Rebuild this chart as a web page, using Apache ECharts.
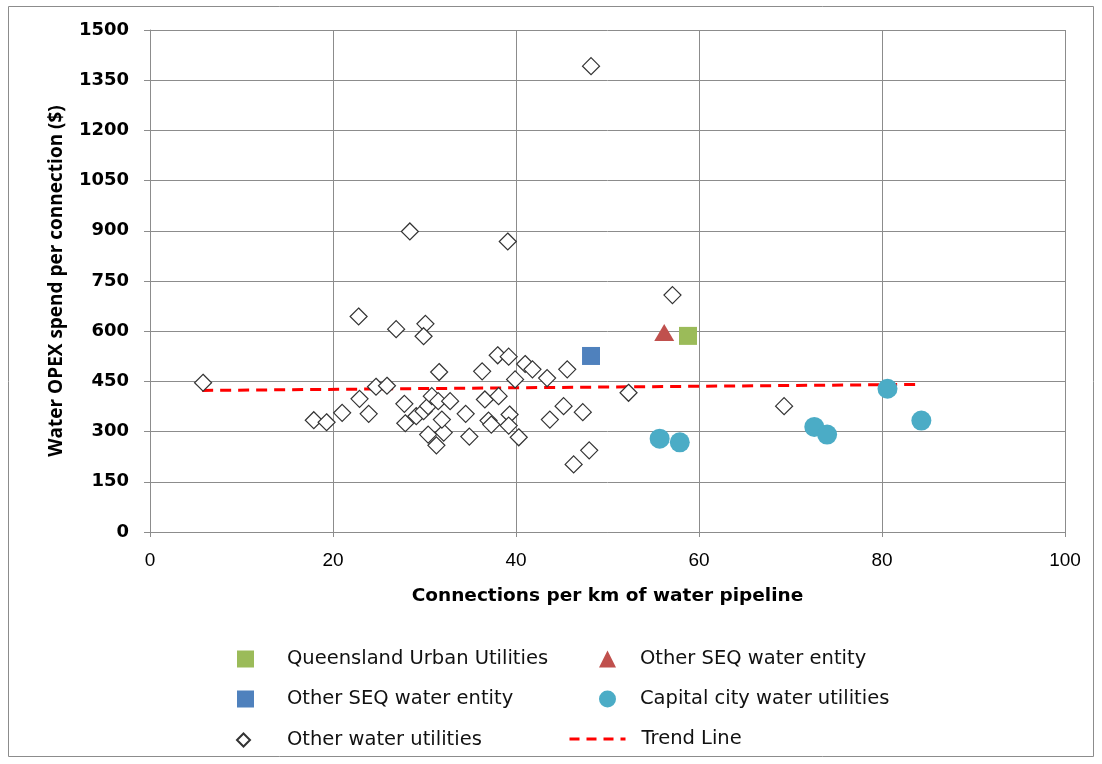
<!DOCTYPE html>
<html>
<head>
<meta charset="utf-8">
<script src="https://cdn.jsdelivr.net/npm/echarts@6/dist/echarts.min.js"></script>
<style>
  html, body { margin: 0; padding: 0; background: #fff; }
  #chart { width: 1102px; height: 764px; }
</style>
</head>
<body>
<div id="chart"></div>
<script>
// Connections per km of pipeline vs water OPEX spend per connection ($)
const xTicks = [0, 20, 40, 60, 80, 100];
const yTicks = [0, 150, 300, 450, 600, 750, 900, 1050, 1200, 1350, 1500];

const quuPoints = [[58.8, 586]];
const seqTrianglePoints = [[56.2, 596]];
const seqSquarePoints = [[48.2, 526]];
const capitalPoints = [
  [55.7, 279], [57.9, 268], [72.6, 314], [74.0, 291], [80.6, 428], [84.3, 333]
];
const otherPoints = [
  [5.8, 446], [17.9, 334], [19.3, 328], [21.0, 356], [22.9, 398], [23.9, 353],
  [24.7, 434], [25.9, 437], [22.8, 644], [26.9, 606], [30.1, 622], [29.9, 585],
  [28.4, 898], [39.1, 868], [48.2, 1392], [57.1, 708], [27.8, 383], [27.9, 325],
  [29.1, 346], [29.9, 361], [30.4, 376], [30.8, 406], [31.5, 391], [32.8, 391],
  [30.4, 291], [32.1, 297], [31.3, 259], [31.9, 336], [31.6, 478], [34.5, 353],
  [34.9, 285], [36.3, 480], [36.6, 396], [38.1, 406], [37.0, 333], [37.3, 321],
  [38.0, 528], [39.2, 524], [39.3, 351], [39.2, 318], [39.9, 456], [40.3, 283],
  [41.0, 502], [41.8, 486], [43.4, 460], [43.7, 336], [45.2, 376], [45.6, 486],
  [47.3, 358], [48.0, 244], [46.3, 202], [52.3, 416], [69.3, 376]
];
const trendPoints = [[5.7, 423], [84.0, 441]];

const legendLabels = {
  quu: 'Queensland Urban Utilities',
  seqTri: 'Other SEQ water entity',
  seqSq: 'Other SEQ water entity',
  capital: 'Capital city water utilities',
  other: 'Other water utilities',
  trend: 'Trend Line'
};

const chart = echarts.init(document.getElementById('chart'), null, { renderer: 'canvas' });

const legendText = { fontFamily: "'DejaVu Sans', sans-serif", fontSize: 19.5, color: '#111' };

function legendAt(key, left, top, pad, extra) {
  return Object.assign({
    data: [key],
    left: left, top: top,
    itemWidth: 17, itemHeight: 17,
    itemGap: 0,
    selectedMode: false,
    formatter: (n) => legendLabels[n],
    textStyle: Object.assign({ padding: [0, 0, 0, pad] }, legendText)
  }, extra || {});
}

const option = {
  backgroundColor: '#fff',
  animation: false,
  grid: { left: 150, right: 37, top: 30, bottom: 232, containLabel: false },
  xAxis: {
    type: 'value', min: 0, max: 100, interval: 20,
    axisLine: { show: true, lineStyle: { color: '#8c8c8c', width: 1 } },
    axisTick: { show: true, length: 5, lineStyle: { color: '#8c8c8c' } },
    splitLine: { show: true, lineStyle: { color: '#8c8c8c', width: 1 } },
    axisLabel: {
      margin: 19, color: '#000', fontFamily: "'Liberation Sans', sans-serif", fontSize: 19,
      formatter: (v) => xTicks.includes(v) ? String(v) : ''
    },
    name: 'Connections per km of water pipeline',
    nameLocation: 'middle', nameGap: 55,
    nameTextStyle: { color: '#000', fontWeight: 'bold', fontSize: 18.5, fontFamily: "'DejaVu Sans', sans-serif" }
  },
  yAxis: {
    type: 'value', min: 0, max: 1500, interval: 150,
    axisLine: { show: true, lineStyle: { color: '#8c8c8c', width: 1 } },
    axisTick: { show: true, length: 6, lineStyle: { color: '#8c8c8c' } },
    splitLine: { show: true, lineStyle: { color: '#8c8c8c', width: 1 } },
    axisLabel: {
      margin: 21, color: '#000', fontFamily: "'DejaVu Sans', sans-serif", fontSize: 18, fontWeight: 'bold',
      formatter: (v) => yTicks.includes(v) ? String(v) : ''
    },
    name: 'Water OPEX spend per connection ($)',
    nameLocation: 'middle', nameGap: 84, nameRotate: 90,
    nameTextStyle: { color: '#000', fontWeight: 'bold', fontSize: 19, fontFamily: "'Open Sans', 'Noto Sans', sans-serif" }
  },
  legend: [
    legendAt('quu', 232, 644, 28),
    legendAt('seqTri', 594, 644, 19),
    legendAt('seqSq', 232, 684, 28),
    legendAt('capital', 594, 684, 19),
    legendAt('other', 231, 725, 32, { itemWidth: 13, itemHeight: 13 }),
    legendAt('trend', 563, 724, 11, {
      itemWidth: 56, itemHeight: 16,
      itemStyle: { opacity: 0 },
      lineStyle: { color: '#ff0000', width: 3, type: [10, 7] }
    })
  ],
  graphic: [{
    type: 'rect', silent: true,
    shape: { x: 8.5, y: 6.5, width: 1085, height: 750 },
    style: { fill: 'none', stroke: '#8c8c8c', lineWidth: 1 }
  }],
  series: [
    {
      name: 'trend', type: 'line', data: trendPoints, symbol: 'none', z: 3,
      lineStyle: { color: '#ff0000', width: 3, type: [11, 7] },
      itemStyle: { color: '#ff0000' }
    },
    {
      name: 'other', type: 'scatter', data: otherPoints, symbol: 'diamond', symbolSize: 17, z: 4,
      itemStyle: { color: '#fff', opacity: 1, borderColor: '#333', borderWidth: 1.2 }
    },
    {
      name: 'capital', type: 'scatter', data: capitalPoints, symbol: 'circle', symbolSize: 20, z: 5,
      itemStyle: { color: '#4bacc6', opacity: 1 }
    },
    {
      name: 'seqSq', type: 'scatter', data: seqSquarePoints, symbol: 'rect', symbolSize: 18, z: 5,
      itemStyle: { color: '#4f81bd', opacity: 1 }
    },
    {
      name: 'seqTri', type: 'scatter', data: seqTrianglePoints, symbol: 'triangle', symbolSize: [20, 17], z: 5,
      itemStyle: { color: '#c0504d', opacity: 1 }
    },
    {
      name: 'quu', type: 'scatter', data: quuPoints, symbol: 'rect', symbolSize: 18, z: 5,
      itemStyle: { color: '#9bbb59', opacity: 1 }
    }
  ]
};

chart.setOption(option);
</script>
</body>
</html>
